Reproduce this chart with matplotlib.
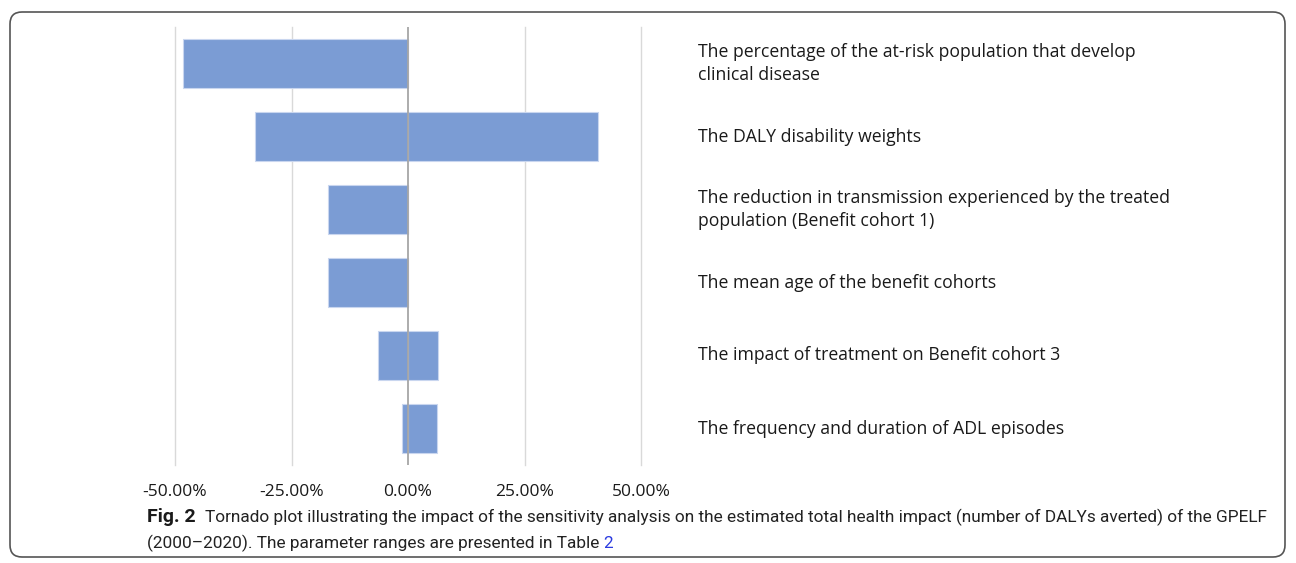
import matplotlib.pyplot as plt
from matplotlib.patches import FancyBboxPatch
from matplotlib.transforms import blended_transform_factory

# --- data (percent change in DALYs averted) ---
parameters = [
    "The percentage of the at-risk population that develop\nclinical disease",
    "The DALY disability weights",
    "The reduction in transmission experienced by the treated\npopulation (Benefit cohort 1)",
    "The mean age of the benefit cohorts",
    "The impact of treatment on Benefit cohort 3",
    "The frequency and duration of ADL episodes",
]
low_values = [-48.2, -32.9, -17.2, -17.1, -6.5, -1.2]
high_values = [0.0, 40.8, 0.0, 0.0, 6.5, 6.3]
tick_values = [-50, -25, 0, 25, 50]
tick_labels = ["-50.00%", "-25.00%", "0.00%", "25.00%", "50.00%"]

bar_color = "#7b9cd4"
W, H = 1296, 563

fig = plt.figure(figsize=(W / 100, H / 100), dpi=100)
ax = fig.add_axes([175 / W, 1 - 465 / H, (641 - 175) / W, (465 - 27) / H])

ypos = list(range(len(parameters)))
ax.barh(ypos, low_values, height=0.66, color=bar_color, edgecolor="#c9d6ef", linewidth=0.8, zorder=2)
ax.barh(ypos, high_values, height=0.66, color=bar_color, edgecolor="#c9d6ef", linewidth=0.8, zorder=2)

ax.set_xlim(-50, 50)
ax.set_ylim(len(parameters) - 0.5, -0.5)
for t in tick_values:
    if t == 0:
        ax.axvline(t, color="#a6a6a6", lw=1.3, zorder=3)
    else:
        ax.axvline(t, color="#d9d9d9", lw=1.0, zorder=1, clip_on=False)

ax.set_yticks([])
ax.set_xticks(tick_values)
ax.set_xticklabels(tick_labels, fontsize=12.5, family="Open Sans", color="#1a1a1a")
ax.tick_params(axis="x", length=0, pad=14)
for s in ax.spines.values():
    s.set_visible(False)

# parameter names to the right of the chart
trans = blended_transform_factory(fig.transFigure, ax.transData)
for y, name in zip(ypos, parameters):
    ax.text(698 / W, y, name, transform=trans, ha="left", va="center",
            fontsize=12.7, family="Open Sans", color="#1a1a1a", linespacing=1.4)

# caption
cap_font = ["Roboto", "DejaVu Sans"]
y1, y2 = 1 - 517 / H, 1 - 543 / H
fig_lbl = fig.text(147 / W, y1, "Fig. 2", fontsize=14, weight="bold", family=cap_font,
                   color="#1a1a1a", va="center")
fig.canvas.draw()
x_start = fig_lbl.get_window_extent().x1 + 9
fig.text(x_start / W, y1,
         "Tornado plot illustrating the impact of the sensitivity analysis on the estimated total "
         "health impact (number of DALYs averted) of the GPELF",
         fontsize=12.4, family=cap_font, color="#222222", va="center")
line2 = fig.text(147 / W, y2, "(2000\u20132020). The parameter ranges are presented in Table ",
                 fontsize=12.4, family=cap_font, color="#222222", va="center")
fig.canvas.draw()
bb = line2.get_window_extent()
fig.text(bb.x1 / W, y2, "2", fontsize=12.4, family=cap_font, color="#2b3be0", va="center")

# rounded frame
frame = FancyBboxPatch((10 / 100, (H - 557) / 100), (1285 - 10) / 100, (557 - 12) / 100,
                       boxstyle="round,pad=0,rounding_size=0.12",
                       transform=fig.dpi_scale_trans, fill=False, edgecolor="#555555", lw=1.2)
fig.patches.append(frame)

fig.savefig("out.png", dpi=100)
